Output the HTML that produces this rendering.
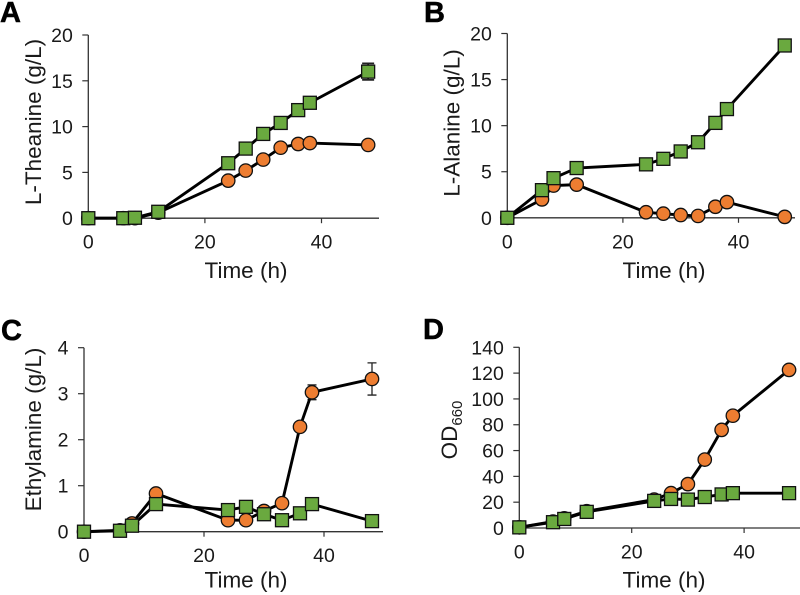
<!DOCTYPE html>
<html lang="en">
<head>
<meta charset="utf-8">
<title>Fermentation time courses</title>
<style>
html,body{margin:0;padding:0;background:#fff;width:800px;height:595px;overflow:hidden}
svg{display:block;font-family:"Liberation Sans",Arial,sans-serif}
text{fill:#1a1a1a}
</style>
</head>
<body>
<svg id="chart" width="800" height="595" viewBox="0 0 800 595" xmlns="http://www.w3.org/2000/svg"></svg>
<script>
const times = [0, 6, 8, 12, 24, 27, 30, 33, 36, 38, 48];
const xTicks = [0, 20, 40];

const theanineOrange = [0, 0, 0, 0.6, 4.1, 5.2, 6.4, 7.7, 8.1, 8.2, 8.0];
const theanineGreen = [0, 0, 0.05, 0.7, 6.0, 7.6, 9.2, 10.4, 11.8, 12.6, 16.0];
const theanineTicks = [0, 5, 10, 15, 20];
const theanineOrangeErr = [0, 0, 0, 0, 0, 0, 0, 0, 0, 0, 0];
const theanineGreenErr = [0, 0, 0, 0, 0, 0, 0, 0, 0, 0, 0.9];

const alanineOrange = [0, 2.0, 3.5, 3.6, 0.6, 0.45, 0.3, 0.2, 1.2, 1.7, 0.1];
const alanineGreen = [0, 3.0, 4.3, 5.4, 5.8, 6.4, 7.2, 8.2, 10.3, 11.8, 18.7];
const alanineTicks = [0, 5, 10, 15, 20];
const alanineOrangeErr = [0, 0, 0, 0, 0, 0, 0, 0, 0, 0, 0];
const alanineGreenErr = [0, 0, 0, 0, 0, 0, 0, 0, 0, 0, 0];

const ethylamineOrange = [0, 0.03, 0.18, 0.83, 0.25, 0.25, 0.45, 0.62, 2.28, 3.03, 3.32];
const ethylamineGreen = [0, 0.02, 0.13, 0.6, 0.47, 0.54, 0.38, 0.25, 0.4, 0.6, 0.23];
const ethylamineTicks = [0, 1, 2, 3, 4];
const ethylamineOrangeErr = [0, 0, 0, 0, 0, 0, 0, 0, 0, 0.16, 0.35];
const ethylamineGreenErr = [0, 0, 0, 0, 0, 0, 0, 0, 0, 0, 0];

const odOrange = [0.5, 5, 7.5, 13, 22, 27, 34, 53, 76, 87, 122.5];
const odGreen = [0.5, 4.5, 7, 12.5, 21, 22.5, 22, 24, 26, 27, 27];
const odTicks = [0, 20, 40, 60, 80, 100, 120, 140];
const odOrangeErr = [0, 0, 0, 0, 0, 0, 0, 0, 0, 0, 0];
const odGreenErr = [0, 0, 0, 0, 0, 0, 0, 0, 0, 0, 0];

const NS = 'http://www.w3.org/2000/svg';
const root = document.getElementById('chart');

function make(parent, tag, attrs, text) {
  const el = document.createElementNS(NS, tag);
  for (const k in attrs) el.setAttribute(k, attrs[k]);
  if (text !== undefined) el.textContent = text;
  parent.appendChild(el);
  return el;
}

function drawPanel(cfg) {
  const g = make(root, 'g', {});
  
  

  const xScale = v => cfg.x0 + (v / 20) * cfg.xPer20;
  const yMax = cfg.yTicks[cfg.yTicks.length - 1];
  const yScale = v => cfg.y0 + (v / yMax) * (cfg.yTop - cfg.y0);

  const label = make(g, 'text', {x: cfg.labelX, y: cfg.labelY, 'font-size': 29, 'font-weight': 'bold', fill: '#000', stroke: '#000', 'stroke-width': 0.5, style: 'fill:#000'}, cfg.letter);
  
  

  const axisX = make(g, 'line', {x1: cfg.x0, x2: cfg.xEnd, y1: cfg.y0, y2: cfg.y0, stroke: '#333', 'stroke-width': 1.3});
  
  
  const axisY = make(g, 'line', {x1: cfg.x0, x2: cfg.x0, y1: cfg.yTop, y2: cfg.y0, stroke: '#333', 'stroke-width': 1.3});
  
  

  xTicks.forEach(t => {
    const px = xScale(t);
    if (t > 0) make(g, 'line', {x1: px, x2: px, y1: cfg.y0, y2: cfg.y0 + 5, stroke: '#333', 'stroke-width': 1.2});
    const tl = make(g, 'text', {x: px, y: cfg.y0 + 30.5, 'font-size': 19.5, 'text-anchor': 'middle'}, t);
    
    
  });
  cfg.yTicks.forEach(t => {
    const py = yScale(t);
    make(g, 'line', {x1: cfg.x0 - 6, x2: cfg.x0, y1: py, y2: py, stroke: '#333', 'stroke-width': 1.2});
    const tl = make(g, 'text', {x: cfg.x0 - 15.5, y: py + 7, 'font-size': 19.5, 'text-anchor': 'end'}, t);
    
    
  });

  const xt = make(g, 'text', {x: cfg.xTitleX, y: cfg.y0 + cfg.xTitleDy, 'font-size': 22.5, 'text-anchor': 'middle'}, 'Time (h)');
  
  

  const yt = make(g, 'text', {transform: 'translate(' + cfg.yTitleX + ' ' + cfg.yTitleY + ') rotate(-90)', 'font-size': 22.5, 'text-anchor': 'middle'});
  
  
  if (cfg.yTitleSub) {
    make(yt, 'tspan', {}, cfg.yTitle);
    make(yt, 'tspan', {dy: 5, 'font-size': 15}, cfg.yTitleSub);
  } else {
    yt.textContent = cfg.yTitle;
  }

  function errorBars(values, errs, name) {
    times.forEach((t, i) => {
      if (!errs[i]) return;
      const px = xScale(t), hi = yScale(values[i] + errs[i]), lo = yScale(values[i] - errs[i]);
      const eb = make(g, 'path', {d: 'M' + px + ' ' + hi + 'V' + lo + 'M' + (px - cfg.errCap) + ' ' + hi + 'H' + (px + cfg.errCap) + 'M' + (px - cfg.errCap) + ' ' + lo + 'H' + (px + cfg.errCap), stroke: '#222', 'stroke-width': cfg.errWidth, fill: 'none'});
      
      
    });
  }

  function linePath(values, name) {
    const pts = times.map((t, i) => xScale(t).toFixed(2) + ',' + yScale(values[i]).toFixed(2)).join(' ');
    const pl = make(g, 'polyline', {points: pts, fill: 'none', stroke: '#000', 'stroke-width': 2.9, 'stroke-linejoin': 'round'});
    
    
  }

  errorBars(cfg.orange, cfg.orangeErr, 'orange-series');
  errorBars(cfg.green, cfg.greenErr, 'green-series');
  linePath(cfg.orange, 'orange-series');
  times.forEach((t, i) => {
    const c = make(g, 'circle', {cx: xScale(t), cy: yScale(cfg.orange[i]), r: 6.7, fill: '#ed7d31', stroke: '#111', 'stroke-width': 1.3});
    
    
  });
  linePath(cfg.green, 'green-series');
  times.forEach((t, i) => {
    const r = make(g, 'rect', {x: xScale(t) - 6.5, y: yScale(cfg.green[i]) - 6.5, width: 13, height: 13, fill: '#6aa93f', stroke: '#111', 'stroke-width': 1.3});
    
    
  });
}

drawPanel({id: 'l-theanine', letter: 'A', labelX: 0, labelY: 22, x0: 88.3, xPer20: 116.6, xEnd: 379, y0: 218.2, yTop: 35,
  yTicks: theanineTicks, orange: theanineOrange, green: theanineGreen, orangeErr: theanineOrangeErr, greenErr: theanineGreenErr, errCap: 6, errWidth: 1.8,
  yTitle: 'L-Theanine (g/L)', yTitleX: 41, yTitleY: 122, xTitleX: 246, xTitleDy: 60});
drawPanel({id: 'l-alanine', letter: 'B', labelX: 424, labelY: 22, x0: 507.3, xPer20: 115.6, xEnd: 795, y0: 217.8, yTop: 33.5,
  yTicks: alanineTicks, orange: alanineOrange, green: alanineGreen, orangeErr: alanineOrangeErr, greenErr: alanineGreenErr, errCap: 5, errWidth: 1.3,
  yTitle: 'L-Alanine (g/L)', yTitleX: 459.5, yTitleY: 123, xTitleX: 664, xTitleDy: 60});
drawPanel({id: 'ethylamine', letter: 'C', labelX: 1, labelY: 340, x0: 84, xPer20: 120, xEnd: 383, y0: 531.7, yTop: 347.7,
  yTicks: ethylamineTicks, orange: ethylamineOrange, green: ethylamineGreen, orangeErr: ethylamineOrangeErr, greenErr: ethylamineGreenErr, errCap: 4.5, errWidth: 1.3,
  yTitle: 'Ethylamine (g/L)', yTitleX: 41, yTitleY: 429.5, xTitleX: 246, xTitleDy: 56});
drawPanel({id: 'od660', letter: 'D', labelX: 423, labelY: 339, x0: 519.3, xPer20: 112.4, xEnd: 800, y0: 528, yTop: 347.3,
  yTicks: odTicks, orange: odOrange, green: odGreen, orangeErr: odOrangeErr, greenErr: odGreenErr, errCap: 5, errWidth: 1.3,
  yTitle: 'OD', yTitleSub: '660', yTitleX: 457, yTitleY: 430, xTitleX: 664, xTitleDy: 59.5});
</script>
</body>
</html>
